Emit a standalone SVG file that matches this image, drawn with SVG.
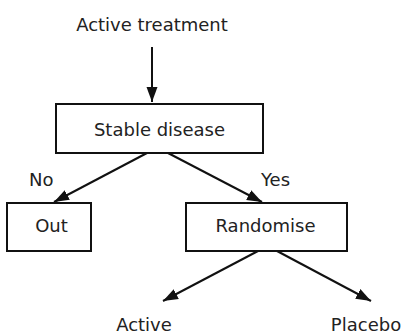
<svg xmlns="http://www.w3.org/2000/svg" width="404" height="334" viewBox="0 0 404 334">
<defs>
<marker id="ah" markerUnits="userSpaceOnUse" markerWidth="16" markerHeight="12" refX="15" refY="6" orient="auto">
<path d="M0,0.5 L15,6 L0,11.5 z" fill="#111"/>
</marker>
<style>
text{font-family:"DejaVu Sans",sans-serif;font-size:18px;fill:#222}
.box{fill:#fff;stroke:#111;stroke-width:2}
.c{stroke:#111;stroke-width:2;fill:none;marker-end:url(#ah)}
</style>
</defs>
<rect width="404" height="334" fill="#fff"/>
<g id="connectors">
<line class="c" x1="152" y1="47" x2="152" y2="102"/>
<line class="c" x1="147" y1="153" x2="54" y2="202"/>
<line class="c" x1="168" y1="153" x2="262" y2="202"/>
<line class="c" x1="258" y1="251" x2="163" y2="301"/>
<line class="c" x1="277" y1="251" x2="371" y2="301"/>
<text x="29" y="186">No</text>
<text x="261" y="186">Yes</text>
</g>
<g id="n-active-treatment"><text x="152" y="31" text-anchor="middle">Active treatment</text></g>
<g id="n-stable"><rect class="box" x="56" y="104" width="207" height="49"/><text x="159.5" y="136" text-anchor="middle">Stable disease</text></g>
<g id="n-out"><rect class="box" x="7" y="203" width="84" height="48"/><text x="51.5" y="232" text-anchor="middle">Out</text></g>
<g id="n-randomise"><rect class="box" x="186" y="203" width="161" height="48"/><text x="265.5" y="232" text-anchor="middle">Randomise</text></g>
<g id="n-active"><text x="144" y="331" text-anchor="middle">Active</text></g>
<g id="n-placebo"><text x="366" y="331" text-anchor="middle">Placebo</text></g>
</svg>
